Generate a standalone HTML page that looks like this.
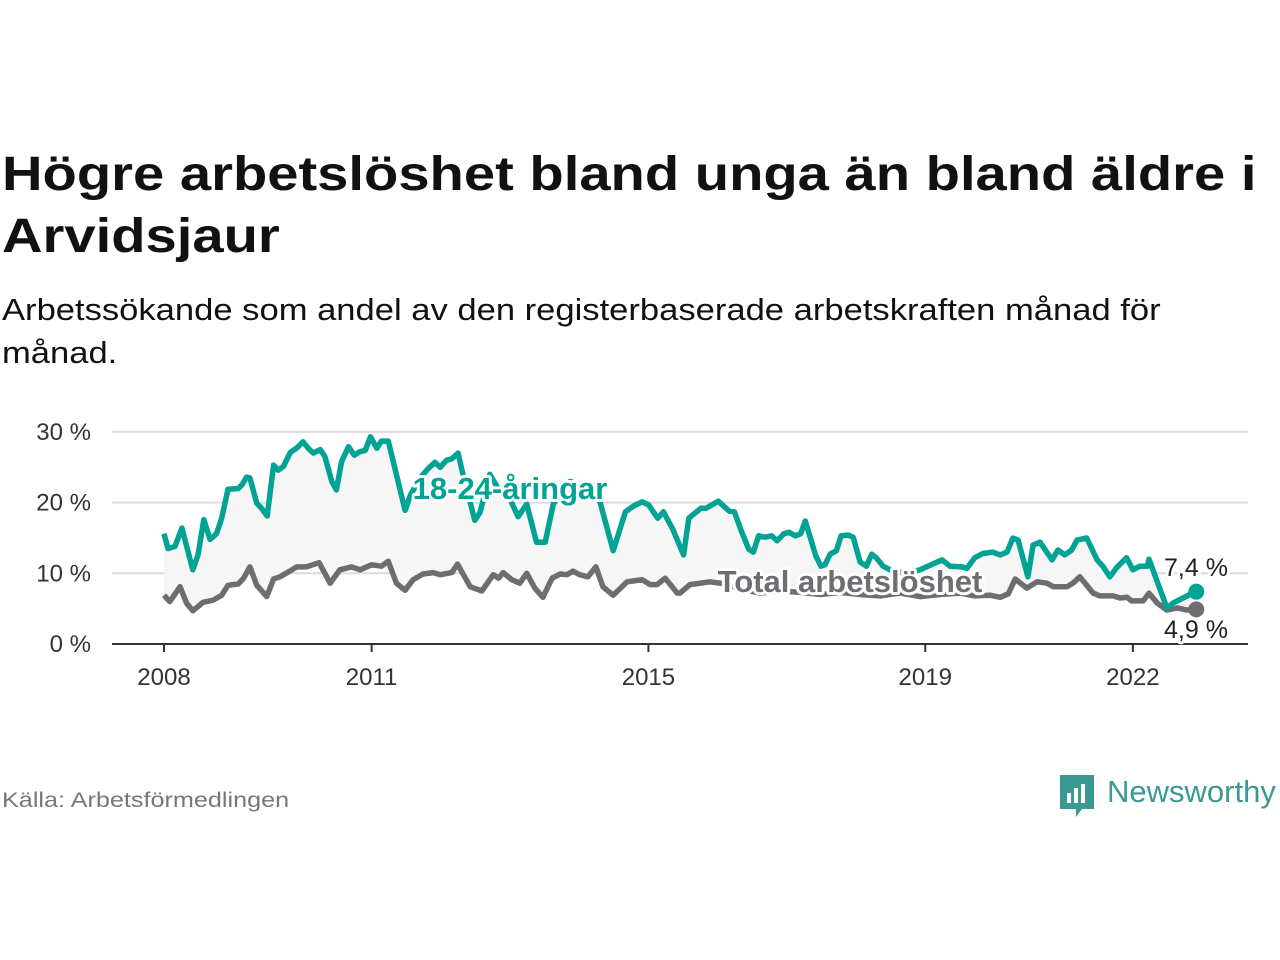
<!DOCTYPE html>
<html><head><meta charset="utf-8"><style>
body{margin:0;width:1280px;height:960px;background:#fff;font-family:"Liberation Sans",sans-serif;overflow:hidden;position:relative}
.t{position:absolute;left:2px;top:144px;font-size:48px;font-weight:bold;color:#111;line-height:62px;white-space:nowrap;transform:scaleX(1.17);transform-origin:left top}
.s{position:absolute;left:2px;top:288px;font-size:31px;color:#111;line-height:43px;white-space:nowrap;transform:scaleX(1.115);transform-origin:left top}
.src{position:absolute;left:2px;top:789px;font-size:21px;color:#777;white-space:nowrap;transform:scaleX(1.2);transform-origin:left top}
svg{position:absolute;left:0;top:0}
</style></head><body>
<div class="t">Högre arbetslöshet bland unga än bland äldre i<br>Arvidsjaur</div>
<div class="s">Arbetssökande som andel av den registerbaserade arbetskraften månad för<br>månad.</div>
<div class="src">Källa: Arbetsförmedlingen</div>
<div style="position:absolute;left:1060px;top:775px;width:220px;height:44px">
<svg width="40" height="44" viewBox="0 0 40 44" style="position:absolute;left:0;top:0"><path d="M0 0H34V34H22L16 42V34H0Z" fill="#3a9a93"/><rect x="7" y="18" width="4" height="10" fill="#fff"/><rect x="14" y="13" width="4" height="15" fill="#fff"/><rect x="21" y="9" width="4" height="19" fill="#fff"/></svg>
<span style="position:absolute;left:47px;top:-1px;font-size:31px;color:#3a9a93;white-space:nowrap">Newsworthy</span></div>
<svg id="chart" width="1280" height="960"></svg>
<script>
const youthMonths=[0,0.7,1.9,3.1,5,5.9,6.9,8,9.1,10,11.1,12.9,13.5,14.3,14.9,16.1,16.9,17.9,19,19.8,20.7,21.9,23,24.1,25,25.9,27.1,27.9,29.1,29.9,30.8,32,33,34,34.9,35.8,36.9,37.7,38.9,41.8,42.7,44.4,45.8,47,47.9,49,49.9,51,51.6,53.9,54.8,56.5,58.3,60,61.4,62.9,64.6,66.1,67.5,70.4,73.9,75.6,77.9,80,81.4,82.9,84,85.6,86.6,88.2,90.1,91,91.9,93.1,94,96.1,98,98.9,100.1,101.4,102.2,103.1,104.2,105.4,106.3,107.5,108.4,109.5,110.4,111.2,113,113.9,114.6,115.5,116.6,117.4,118.6,119.5,120.7,121.8,122.7,123.5,124.7,125.9,128.5,131.1,134.9,136.3,138.4,139.2,140.6,142,143.7,145,146.2,147.2,148.1,149.8,150.7,151.9,154,155,156.2,157.4,158.3,160,161.8,162.8,164,165.2,166.9,168,169.2,170.5,170.8,173.9,175,177.9,179];
const youthValues=[15.6,13.5,13.8,16.4,10.5,12.6,17.6,14.8,15.6,17.8,21.9,22,22.5,23.6,23.5,19.9,19.2,18.1,25.3,24.6,25.1,27.1,27.7,28.6,27.7,27,27.5,26.5,23,21.8,25.8,27.9,26.7,27.2,27.4,29.3,27.7,28.7,28.7,18.9,21,23.5,24.8,25.7,25,26,26.2,27,24.8,17.5,18.6,24,21.5,20.5,18,19.8,14.4,14.4,19.8,23,22,20.1,13.2,18.7,19.5,20.1,19.7,17.8,18.7,16.3,12.6,17.8,18.4,19.2,19.2,20.2,18.8,18.7,16,13.4,13,15.3,15.1,15.3,14.6,15.6,15.8,15.3,15.6,17.4,12.5,11,11.2,12.7,13.2,15.3,15.4,15.1,11.6,11,12.7,12.2,11,10.5,10,10.5,11.9,11,10.9,10.7,12.2,12.8,13,12.6,13,15,14.7,9.5,14,14.4,11.9,13.3,12.6,13.3,14.7,15,11.9,11,9.5,10.8,12.2,10.5,11,11,12,5.1,5.8,7,7.4];
const totalMonths=[0,1,2.8,3.9,5,6.8,8.5,10,11.1,12.9,13.8,14.9,16.1,17.8,19,20.1,21.8,23,24.7,26.9,28.8,30.5,32.5,34,36,37.7,38.9,40.3,41.8,43.2,44.9,46.7,47.9,49.9,50.9,53.1,55.1,57.1,58,58.8,60.3,61.7,62.9,64.3,65.7,67.3,68.7,69.9,70.9,72.1,73.5,74.9,76.1,77.9,80.3,82.9,84.3,85.5,86.9,89,89.5,91.2,94.7,97.3,99.9,103.3,106.8,110.3,113.8,117.2,120.7,124.2,127.6,131.1,134.6,138,140.6,143.2,145,146.4,147.6,149.6,151.4,153.1,154.2,156.6,157.6,158.8,161.1,162.3,164.6,165.8,167,167.8,169.8,170.8,172.2,173.9,175.7,177.4,179];
const totalValues=[6.9,6,8.1,5.8,4.7,5.9,6.2,6.9,8.3,8.5,9.3,10.9,8.3,6.7,9.2,9.5,10.3,10.9,10.9,11.5,8.6,10.5,10.9,10.5,11.2,11,11.7,8.6,7.6,9.1,9.9,10.1,9.8,10.1,11.3,8.1,7.5,9.8,9.3,10.1,9.1,8.6,10,7.9,6.6,9.3,9.9,9.8,10.3,9.8,9.5,10.9,8.1,6.9,8.8,9.1,8.4,8.4,9.3,7.2,7.2,8.4,8.8,8.5,7.8,7.2,7.5,7.3,7,7.3,7,6.8,7.2,6.7,7,7.2,6.8,6.9,6.6,7.1,9.2,7.9,8.8,8.6,8.1,8.1,8.6,9.5,7.2,6.8,6.8,6.5,6.6,6.1,6.1,7.2,5.8,4.8,5.1,4.8,4.9];
const yTicks=[0,10,20,30];
const yTickLabels=["0 %","10 %","20 %","30 %"];
const xTickMonths=[0,36,84,132,168];
const xTickLabels=["2008","2011","2015","2019","2022"];

const NS="http://www.w3.org/2000/svg";
const svg=document.getElementById('chart');
const X=m=>164+m*5.767;
const Y=v=>644-v*7.07;
function mk(tag,attrs){const e=document.createElementNS(NS,tag);for(const k in attrs)e.setAttribute(k,attrs[k]);svg.appendChild(e);return e;}
const yp=youthMonths.map((m,i)=>X(m).toFixed(1)+','+Y(youthValues[i]).toFixed(1));
const tp=totalMonths.map((m,i)=>X(m).toFixed(1)+','+Y(totalValues[i]).toFixed(1));
yTicks.forEach((t,i)=>{
  if(t>0){const g=mk('line',{x1:112,x2:1248,y1:Y(t),y2:Y(t),stroke:'#dcdcdc','stroke-width':2});
  
  }
  const l=mk('text',{x:91,y:Y(t)+8,'text-anchor':'end','font-size':24,fill:'#333'});
  l.textContent=yTickLabels[i];
  
  
});
const area=mk('polygon',{points:yp.concat(tp.slice().reverse()).join(' '),fill:'#f6f6f6'});


const ax=mk('line',{x1:112,x2:1248,y1:644,y2:644,stroke:'#333','stroke-width':2});


xTickMonths.forEach((m,i)=>{
  const t=mk('line',{x1:X(m),x2:X(m),y1:644,y2:652,stroke:'#333','stroke-width':2});
  
  
  const l=mk('text',{x:X(m),y:685,'text-anchor':'middle','font-size':24,fill:'#333'});
  l.textContent=xTickLabels[i];
  
  
});
const lt=mk('polyline',{points:tp.join(' '),fill:'none',stroke:'#6e6d72','stroke-width':5.5,'stroke-linejoin':'round'});


const ly=mk('polyline',{points:yp.join(' '),fill:'none',stroke:'#00a394','stroke-width':5.5,'stroke-linejoin':'round'});


const n=youthMonths.length-1,k=totalMonths.length-1;
const d1=mk('circle',{cx:X(youthMonths[n]),cy:Y(youthValues[n]),r:8,fill:'#00a394'});


const d2=mk('circle',{cx:X(totalMonths[k]),cy:Y(totalValues[k]),r:8,fill:'#6e6d72'});


function lab(txt,x,y,col,bold,size,anchor,name){
  const e=mk('text',{x:x,y:y,'text-anchor':anchor,'font-size':size,'font-weight':bold?'bold':'normal',fill:col,stroke:'#fff','stroke-width':6,'paint-order':'stroke','stroke-linejoin':'round'});
  e.textContent=txt;
  
  
}
lab('18-24-åringar',510,499,'#00a394',true,31,'middle','youth-series-label');
lab('Total arbetslöshet',850,592,'#6e6d72',true,31,'middle','total-series-label');
lab(String(youthValues[n]).replace('.',',')+' %',1196,576,'#222',false,25,'middle','youth-end-value');
lab(String(totalValues[k]).replace('.',',')+' %',1196,638,'#222',false,25,'middle','total-end-value');
</script>
</body></html>
